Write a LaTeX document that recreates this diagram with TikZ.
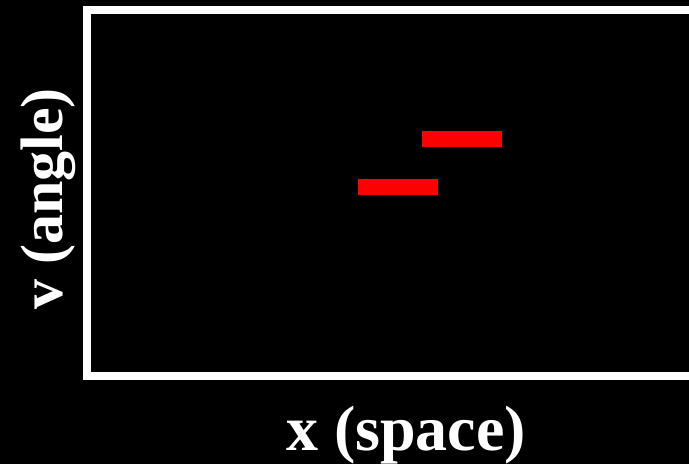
\documentclass[tikz,border=0pt]{standalone}
\usepackage{fontspec}
\setmainfont{Liberation Serif}
\begin{document}
\begin{tikzpicture}[x=1pt,y=1pt,
  lab/.style={text=white,font=\bfseries\fontsize{60}{61}\selectfont,inner sep=0pt,anchor=base},
  bar/.style={fill=red,draw=none}]
\useasboundingbox (0,0) rectangle (689,464);
\fill[black] (0,0) rectangle (689,464);
\begin{scope}
\clip (0,0) rectangle (689,464);
\draw[white,line width=8] (87,88) rectangle (720,453.5);
\end{scope}
\fill[red] (358,269) rectangle (438,285);
\fill[red] (422,317) rectangle (502,333);
\node[lab,font=\bfseries\fontsize{64}{65}\selectfont] (xl) at (406,13) {x (space)};
\node[lab,rotate=90] (vl) at (63,265) {v (angle)};
\end{tikzpicture}
\end{document}
